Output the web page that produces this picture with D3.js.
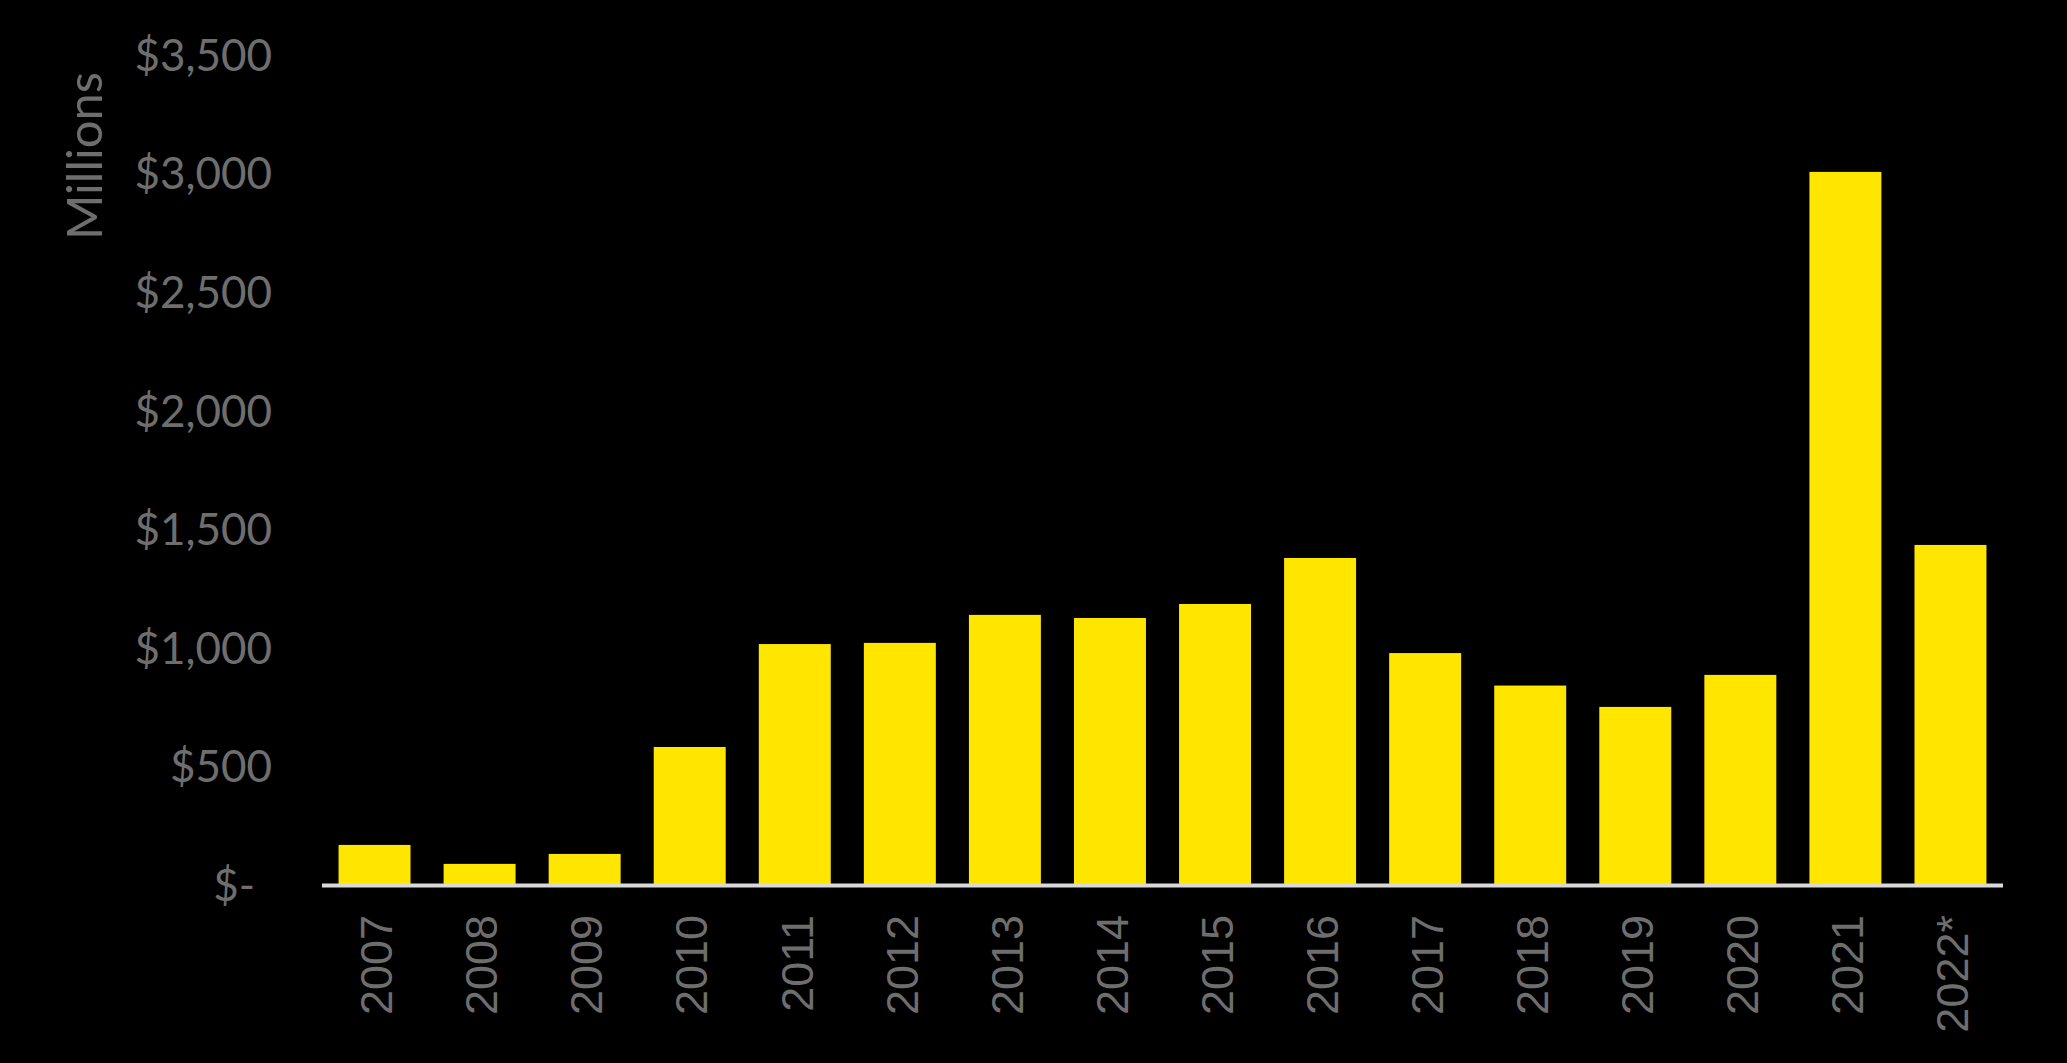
<!DOCTYPE html>
<html>
<head>
<meta charset="utf-8">
<script src="https://cdn.jsdelivr.net/npm/d3@7"></script>
<style>
  html, body { margin: 0; padding: 0; background: #000; }
  svg { display: block; }
</style>
</head>
<body>
<svg id="chart" width="2067" height="1063"></svg>
<script>
const years = ["2007","2008","2009","2010","2011","2012","2013","2014","2015","2016","2017","2018","2019","2020","2021","2022*"];
const values = [169, 89, 131, 582, 1016, 1021, 1139, 1126, 1185, 1379, 978, 841, 751, 886, 3007, 1434];
const yTicks = [0, 500, 1000, 1500, 2000, 2500, 3000, 3500];
const yAxisTitle = "Millions";

const svg = d3.select("#chart");
svg.append("rect").attr("width", 2067).attr("height", 1063).attr("fill", "#000");

const x = d3.scaleBand().domain(years).range([322, 2003]).paddingInner(0.315).paddingOuter(0.1575);
const y = d3.scaleLinear().domain([0, 3500]).range([885, 55]);

const textColor = "#6e6e6e";

// bars
svg.append("g").selectAll("rect").data(years).join("rect")
  .attr("x", d => x(d))
  .attr("width", x.bandwidth())
  .attr("y", (d, i) => y(values[i]))
  .attr("height", (d, i) => y(0) - y(values[i]))
  .attr("fill", "#FFE600");

// baseline
svg.append("line")
  .attr("x1", 322).attr("x2", 2003)
  .attr("y1", y(0) + 0.5).attr("y2", y(0) + 0.5)
  .attr("stroke", "#d9d9d9").attr("stroke-width", 4);

// y axis
const yAxis = d3.axisLeft(y).tickValues(yTicks).tickSize(0).tickPadding(0)
  .tickFormat(d => d === 0 ? "$-" : "$" + d3.format(",")(d));
const gy = svg.append("g").attr("transform", "translate(272,0)").call(yAxis);
gy.select(".domain").remove();
gy.selectAll("text")
  .attr("font-family", "Lato, sans-serif")
  .attr("font-size", 44)
  .attr("fill", textColor)
  .attr("dy", "0.35em")
  .attr("x", d => d === 0 ? -17 : 0);

// x axis
const xAxis = d3.axisBottom(x).tickSize(0).tickPadding(0);
const gx = svg.append("g").attr("transform", `translate(0,${y(0)})`).call(xAxis);
gx.select(".domain").remove();
gx.selectAll("text")
  .attr("font-family", "'Liberation Sans', Arial, sans-serif")
  .attr("font-size", 45)
  .attr("fill", textColor)
  .attr("text-anchor", "end")
  .attr("transform", "rotate(-90)")
  .attr("x", -30)
  .attr("y", 2)
  .attr("dy", "0.35em");

// axis title
svg.append("text")
  .attr("transform", "translate(85,156) rotate(-90)")
  .attr("text-anchor", "middle")
  .attr("dy", "0.35em")
  .attr("font-family", "Lato, sans-serif")
  .attr("font-size", 49)
  .attr("fill", textColor)
  .text(yAxisTitle);
</script>
</body>
</html>
